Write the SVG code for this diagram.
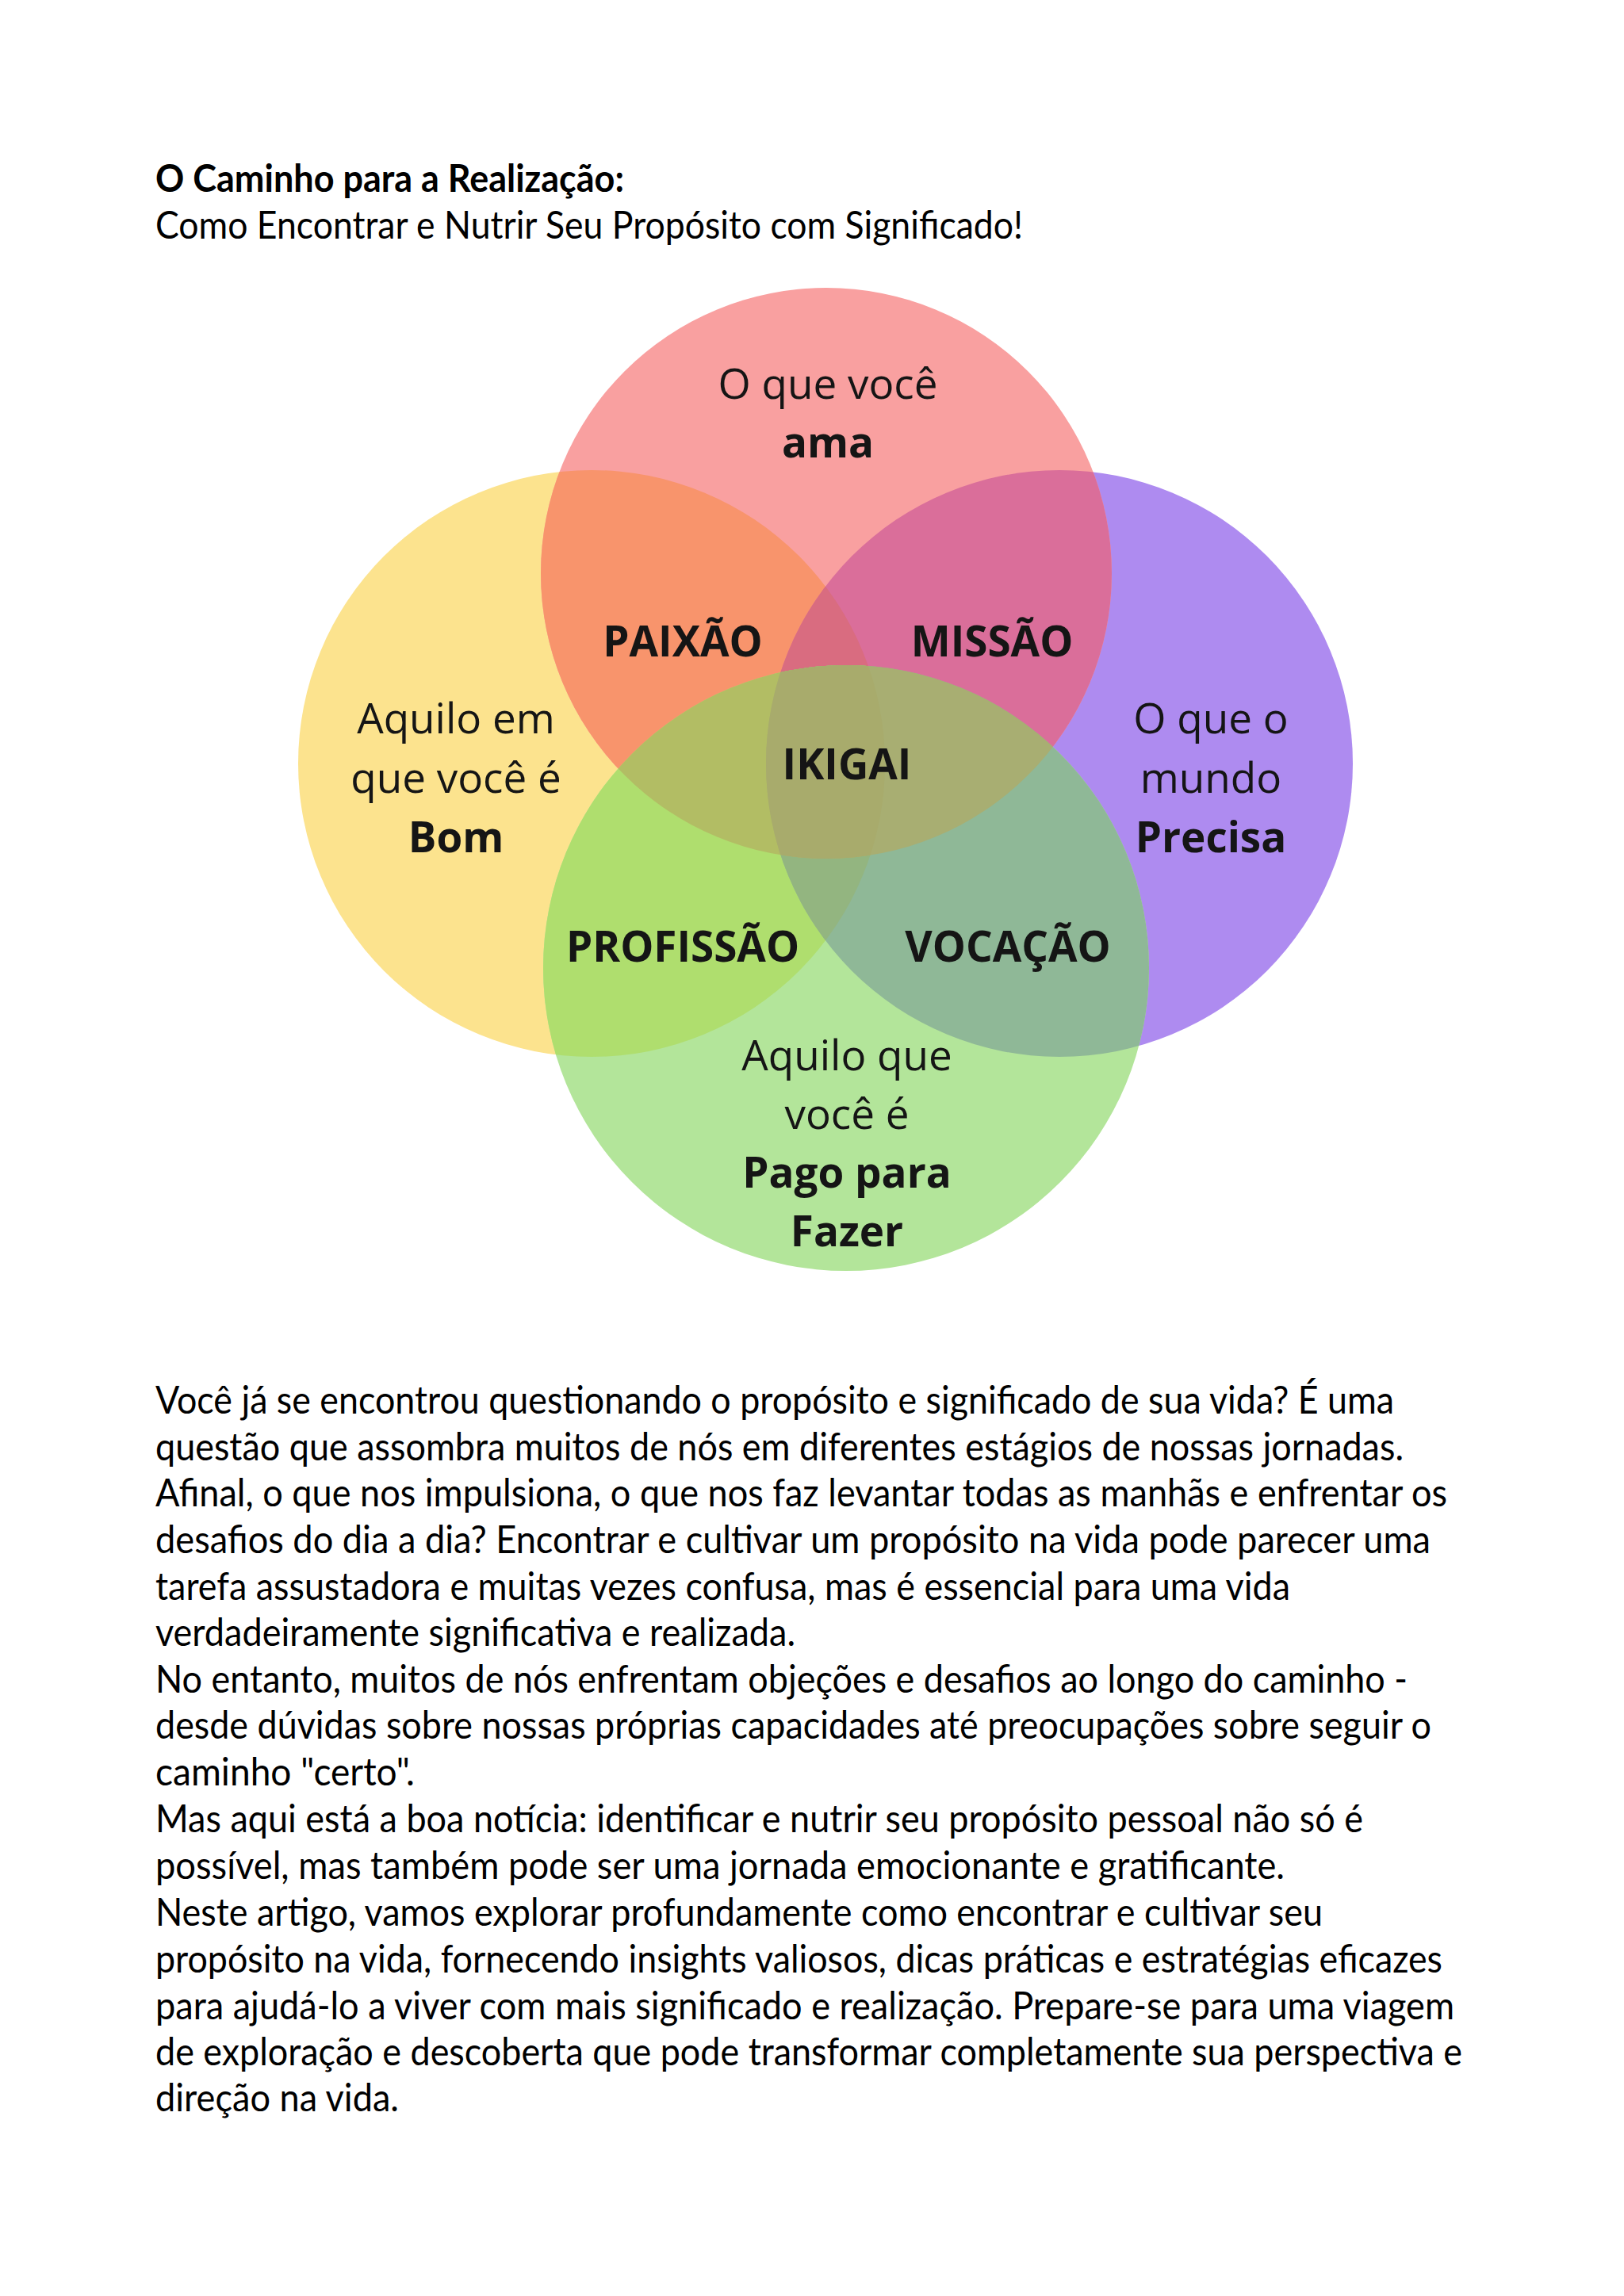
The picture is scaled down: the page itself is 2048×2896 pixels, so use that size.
<svg xmlns="http://www.w3.org/2000/svg" width="2048" height="2896" viewBox="0 0 2048 2896">
<style>
.body{font-family:Lato,"Liberation Sans","Noto Sans",sans-serif;font-size:48px;fill:#000}
.title{font-family:Lato,"Liberation Sans","Noto Sans",sans-serif;font-size:48px;font-weight:700;fill:#000}
.lbl{font-family:"Open Sans","Noto Sans","Liberation Sans",sans-serif;font-size:53px;fill:#151515;text-anchor:middle}
.b{font-weight:700}
</style>
<defs>
<clipPath id="cR"><circle cx="1042" cy="723" r="360"/></clipPath>
<clipPath id="cY"><circle cx="746" cy="963" r="370"/></clipPath>
<clipPath id="cP"><circle cx="1336" cy="963" r="370"/></clipPath>
<clipPath id="cG"><circle cx="1067" cy="1221" r="382"/></clipPath>
</defs>
<rect width="2048" height="2896" fill="#fff"/>
<text class="title" x="196" y="242" textLength="591" lengthAdjust="spacingAndGlyphs">O Caminho para a Realização:</text>
<text class="body" x="196" y="301" textLength="1094" lengthAdjust="spacingAndGlyphs">Como Encontrar e Nutrir Seu Propósito com Significado!</text>

<g id="diagram">
<g id="circle-yellow"><circle cx="746" cy="963" r="370" fill="#FCE38E"/></g>
<g id="circle-purple"><circle cx="1336" cy="963" r="370" fill="#AE8BF0"/></g>
<g id="circle-red"><circle cx="1042" cy="723" r="360" fill="#F9A0A0"/></g>
<g id="circle-green"><circle cx="1067" cy="1221" r="382" fill="#B3E59A"/></g>
<g id="overlaps">
<g clip-path="url(#cR)"><circle cx="746" cy="963" r="370" fill="#F8946C"/></g>
<g clip-path="url(#cR)"><circle cx="1336" cy="963" r="370" fill="#DA6E9A"/></g>
<g clip-path="url(#cR)"><g clip-path="url(#cY)"><circle cx="1336" cy="963" r="370" fill="#D96C80"/></g></g>
<g clip-path="url(#cG)"><circle cx="746" cy="963" r="370" fill="#AFDE6E"/></g>
<g clip-path="url(#cG)"><circle cx="1336" cy="963" r="370" fill="#8FB897"/></g>
<g clip-path="url(#cG)"><g clip-path="url(#cY)"><circle cx="1336" cy="963" r="370" fill="#93B580"/></g></g>
<g clip-path="url(#cR)"><g clip-path="url(#cG)"><circle cx="746" cy="963" r="370" fill="#B2BD64"/></g></g>
<g clip-path="url(#cR)"><g clip-path="url(#cG)"><circle cx="1336" cy="963" r="370" fill="#A8AE72"/></g></g>
<g clip-path="url(#cR)"><g clip-path="url(#cG)"><g clip-path="url(#cY)"><circle cx="1336" cy="963" r="370" fill="#A8AB6C"/></g></g></g>
</g>
<g id="labels">
<text class="lbl" x="1044" y="503">O que você</text>
<text class="lbl b" x="1044" y="577">ama</text>
<text class="lbl" x="575" y="925">Aquilo em</text>
<text class="lbl" x="575" y="1000">que você é</text>
<text class="lbl b" x="575" y="1075">Bom</text>
<text class="lbl" x="1527" y="925">O que o</text>
<text class="lbl" x="1527" y="1000">mundo</text>
<text class="lbl b" x="1527" y="1075">Precisa</text>
<text class="lbl b" x="861" y="828">PAIXÃO</text>
<text class="lbl b" x="1251" y="828">MISSÃO</text>
<text class="lbl b" x="1068" y="983">IKIGAI</text>
<text class="lbl b" x="861" y="1213">PROFISSÃO</text>
<text class="lbl b" x="1271" y="1213">VOCAÇÃO</text>
<text class="lbl" x="1068" y="1350">Aquilo que</text>
<text class="lbl" x="1068" y="1424">você é</text>
<text class="lbl b" x="1068" y="1498">Pago para</text>
<text class="lbl b" x="1068" y="1572">Fazer</text>
</g>
</g>

<g id="article">
<text class="body" x="196" y="1783" textLength="1562" lengthAdjust="spacingAndGlyphs">Você já se encontrou questionando o propósito e significado de sua vida? É uma</text>
<text class="body" x="196" y="1842" textLength="1574" lengthAdjust="spacingAndGlyphs">questão que assombra muitos de nós em diferentes estágios de nossas jornadas.</text>
<text class="body" x="196" y="1900" textLength="1629" lengthAdjust="spacingAndGlyphs">Afinal, o que nos impulsiona, o que nos faz levantar todas as manhãs e enfrentar os</text>
<text class="body" x="196" y="1959" textLength="1608" lengthAdjust="spacingAndGlyphs">desafios do dia a dia? Encontrar e cultivar um propósito na vida pode parecer uma</text>
<text class="body" x="196" y="2018" textLength="1431" lengthAdjust="spacingAndGlyphs">tarefa assustadora e muitas vezes confusa, mas é essencial para uma vida</text>
<text class="body" x="196" y="2076" textLength="807" lengthAdjust="spacingAndGlyphs">verdadeiramente significativa e realizada.</text>
<text class="body" x="196" y="2135" textLength="1579" lengthAdjust="spacingAndGlyphs">No entanto, muitos de nós enfrentam objeções e desafios ao longo do caminho -</text>
<text class="body" x="196" y="2193" textLength="1609" lengthAdjust="spacingAndGlyphs">desde dúvidas sobre nossas próprias capacidades até preocupações sobre seguir o</text>
<text class="body" x="196" y="2252" textLength="327" lengthAdjust="spacingAndGlyphs">caminho "certo".</text>
<text class="body" x="196" y="2311" textLength="1523" lengthAdjust="spacingAndGlyphs">Mas aqui está a boa notícia: identificar e nutrir seu propósito pessoal não só é</text>
<text class="body" x="196" y="2370" textLength="1424" lengthAdjust="spacingAndGlyphs">possível, mas também pode ser uma jornada emocionante e gratificante.</text>
<text class="body" x="196" y="2429" textLength="1472" lengthAdjust="spacingAndGlyphs">Neste artigo, vamos explorar profundamente como encontrar e cultivar seu</text>
<text class="body" x="196" y="2488" textLength="1623" lengthAdjust="spacingAndGlyphs">propósito na vida, fornecendo insights valiosos, dicas práticas e estratégias eficazes</text>
<text class="body" x="196" y="2547" textLength="1638" lengthAdjust="spacingAndGlyphs">para ajudá-lo a viver com mais significado e realização. Prepare-se para uma viagem</text>
<text class="body" x="196" y="2605" textLength="1648" lengthAdjust="spacingAndGlyphs">de exploração e descoberta que pode transformar completamente sua perspectiva e</text>
<text class="body" x="196" y="2663" textLength="307" lengthAdjust="spacingAndGlyphs">direção na vida.</text>
</g>
</svg>
